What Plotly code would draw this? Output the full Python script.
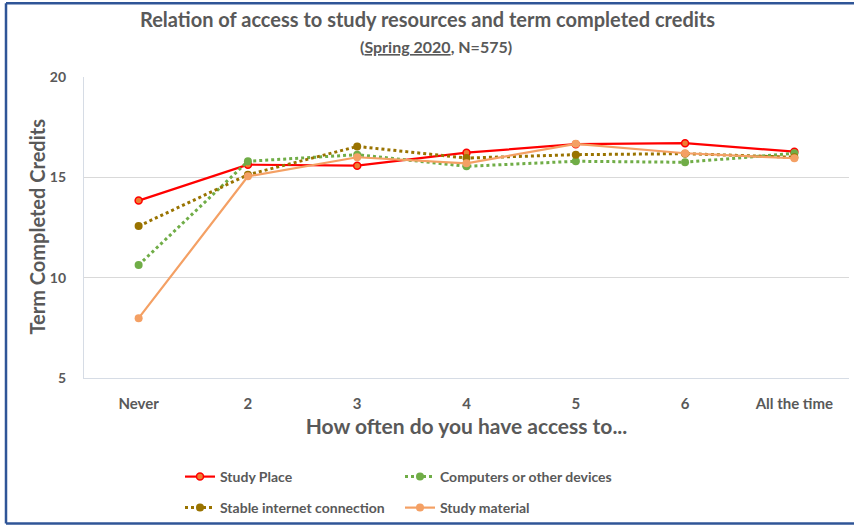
import plotly.graph_objects as go

categories = ["Never", "2", "3", "4", "5", "6", "All the time"]
study_place = [13.84, 15.63, 15.58, 16.23, 16.65, 16.7, 16.28]
computers = [10.63, 15.8, 16.13, 15.55, 15.8, 15.75, 16.2]
internet = [12.57, 15.13, 16.54, 15.96, 16.13, 16.18, 16.0]
material = [7.98, 15.05, 16.0, 15.7, 16.67, 16.2, 15.95]

FONT = "Lato"
GREY = "#595959"

fig = go.Figure()
fig.add_trace(go.Scatter(
    x=categories, y=study_place, name="<b>Study Place</b>", mode="lines+markers",
    line=dict(color="#FF0000", width=2.2),
    marker=dict(size=7, color="#ED7D31", line=dict(color="#FF0000", width=1.5)),
    legend="legend"))
fig.add_trace(go.Scatter(
    x=categories, y=computers, name="<b>Computers or other devices</b>", mode="lines+markers",
    line=dict(color="#70AD47", width=3, dash="dot"),
    marker=dict(size=8, color="#70AD47"),
    legend="legend"))
fig.add_trace(go.Scatter(
    x=categories, y=internet, name="<b>Stable internet connection</b>", mode="lines+markers",
    line=dict(color="#997300", width=3, dash="dot"),
    marker=dict(size=8, color="#997300"),
    legend="legend2"))
fig.add_trace(go.Scatter(
    x=categories, y=material, name="<b>Study material</b>", mode="lines+markers",
    line=dict(color="#F4A064", width=2.2),
    marker=dict(size=8, color="#F4A064"),
    legend="legend2"))

leg_common = dict(orientation="h", xanchor="left", yanchor="middle",
                  entrywidth=175, entrywidthmode="pixels",
                  font=dict(family=FONT, size=14, color=GREY),
                  bgcolor="rgba(0,0,0,0)", itemwidth=30, tracegroupgap=0)

fig.update_layout(
    width=854, height=527,
    margin=dict(l=84, r=5, t=77, b=148),
    paper_bgcolor="white", plot_bgcolor="white",
    font=dict(family=FONT, color=GREY),
    showlegend=True,
    legend=dict(x=(180 - 84) / 765, y=-(477 - 379) / 302, **leg_common),
    legend2=dict(x=(180 - 84) / 765, y=-(508 - 379) / 302, **leg_common),
    xaxis=dict(
        showline=True, linecolor="#D6DCE5", linewidth=1.2,
        showgrid=False, ticks="", ticklabelstandoff=12,
        tickfont=dict(family=FONT, size=15, color=GREY, weight="bold"),
        title=dict(text="<b>How often do you have access to...</b>",
                   font=dict(family=FONT, size=21, color=GREY), standoff=8),
        range=[-0.5, 6.5],
    ),
    yaxis=dict(
        range=[5, 20], tickvals=[5, 10, 15, 20],
        showline=True, linecolor="#D6DCE5", linewidth=1.2,
        showgrid=True, gridcolor="#D9D9D9", gridwidth=1,
        zeroline=False, ticks="", ticklabelstandoff=14,
        tickfont=dict(family=FONT, size=14, color=GREY, weight="bold"),
    ),
    annotations=[
        dict(text="<b>Relation of access to study resources and term completed credits</b>",
             xref="paper", yref="paper", x=(427 - 84) / 765, y=1 + (77 - 19) / 302,
             xanchor="center", yanchor="middle", showarrow=False,
             font=dict(family=FONT, size=20, color=GREY)),
        dict(text="<b>(<u>Spring 2020</u>, N=575)</b>",
             xref="paper", yref="paper", x=(436 - 84) / 765, y=1 + (77 - 46) / 302,
             xanchor="center", yanchor="middle", showarrow=False,
             font=dict(family=FONT, size=16, color=GREY)),
        dict(text="<b>Term Completed Credits</b>", textangle=-90,
             xref="paper", yref="paper", x=(37 - 84) / 765, y=(379 - 227) / 302,
             xanchor="center", yanchor="middle", showarrow=False,
             font=dict(family=FONT, size=20, color=GREY)),
    ],
    shapes=[
        dict(type="line", xref="paper", yref="paper",
             x0=-(84 - 6) / 765, x1=-(84 - 6) / 765, y0=-(525 - 379) / 302, y1=1 + (77 - 3) / 302,
             line=dict(color="#2F5597", width=2.5)),
        dict(type="line", xref="paper", yref="paper",
             x0=-(84 - 6) / 765, x1=1 + 10 / 765, y0=1 + (77 - 3) / 302, y1=1 + (77 - 3) / 302,
             line=dict(color="#2F5597", width=2.5)),
        dict(type="line", xref="paper", yref="paper",
             x0=-(84 - 6) / 765, x1=1 + 10 / 765, y0=-(525 - 379) / 302, y1=-(525 - 379) / 302,
             line=dict(color="#2F5597", width=2.5)),
    ],
)

fig.write_html("out.html")
